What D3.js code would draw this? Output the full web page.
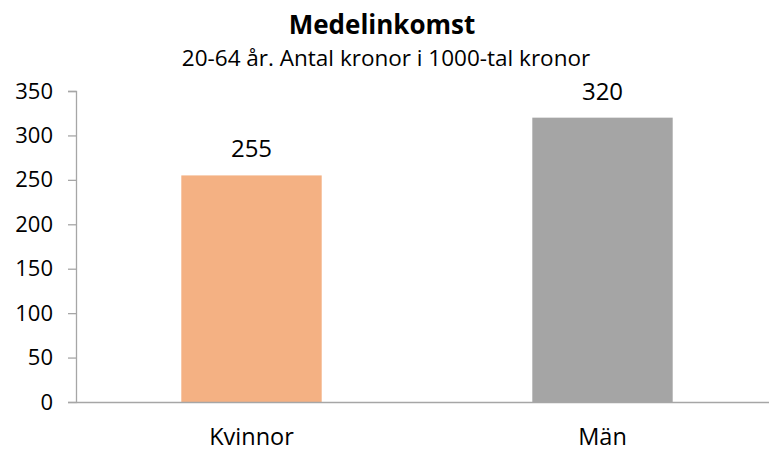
<!DOCTYPE html>
<html><head><meta charset="utf-8">
<script src="https://cdn.jsdelivr.net/npm/d3@7/dist/d3.min.js"></script>
<style>body{margin:0;background:#fff}svg{display:block}text{font-family:"Open Sans","Noto Sans",sans-serif;fill:#000}</style>
</head><body>
<svg id="c" width="769" height="452"></svg>
<script>
const categories = ["Kvinnor", "Män"];
const values = [255, 320];
const colors = ["#F4B183", "#A5A5A5"];
const yTicks = [0, 50, 100, 150, 200, 250, 300, 350];
const title = "Medelinkomst";
const subtitle = "20-64 år. Antal kronor i 1000-tal kronor";

const svg = d3.select("#c");
const mLeft = 76, mRight = 778, mTop = 91, mBottom = 402;
const x = d3.scaleBand().domain(categories).range([mLeft, mRight]).paddingInner(0.6).paddingOuter(0.3);
const y = d3.scaleLinear().domain([0, 350]).range([mBottom, mTop]);

svg.append("text").attr("x", 382).attr("y", 34).attr("text-anchor", "middle")
  .style("font-size", "26px").style("font-weight", "bold").text(title);
svg.append("text").attr("x", 386).attr("y", 66).attr("text-anchor", "middle")
  .style("font-size", "22.5px").text(subtitle);

const ya = svg.append("g").attr("transform", `translate(${mLeft},0)`)
  .call(d3.axisLeft(y).tickValues(yTicks).tickSize(8).tickPadding(15));
ya.selectAll("path,line").attr("stroke", "#a6a6a6").attr("stroke-width", 1.3);
ya.selectAll("text").style("font-size", "22px").style("font-family", "'Open Sans',sans-serif").attr("fill", "#000");

svg.selectAll("rect.bar").data(values).join("rect").attr("class", "bar")
  .attr("x", (d, i) => x(categories[i])).attr("width", x.bandwidth())
  .attr("y", d => y(d)).attr("height", d => mBottom - y(d))
  .attr("fill", (d, i) => colors[i]);

svg.selectAll("text.lbl").data(values).join("text").attr("class", "lbl")
  .attr("x", (d, i) => x(categories[i]) + x.bandwidth() / 2).attr("y", d => y(d) - 18)
  .attr("text-anchor", "middle").style("font-size", "24px").text(d => d);

const xa = svg.append("g").attr("transform", `translate(0,${mBottom})`)
  .call(d3.axisBottom(x).tickSize(0).tickPadding(26));
xa.selectAll("path").attr("stroke", "#a6a6a6").attr("stroke-width", 1.3);
xa.selectAll("text").style("font-size", "23.5px").style("font-family", "'Open Sans',sans-serif").attr("fill", "#000");
</script>
</body></html>
